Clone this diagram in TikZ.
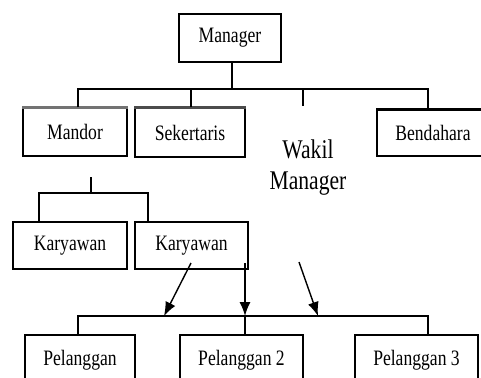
\documentclass[tikz,border=0pt]{standalone}
\usepackage{fontspec}
\setmainfont{Liberation Serif}[FakeStretch=0.8]
\usetikzlibrary{arrows.meta}
\begin{document}
\begin{tikzpicture}[x=1pt,y=-1pt,
  box/.style={draw, line width=1.4pt, inner sep=0pt, font=\fontsize{22}{24}\selectfont},
  conn/.style={line width=1.4pt},
  arr/.style={line width=1.4pt, -{Latex[length=14pt,width=11pt]}},
  greybar/.style={line width=3pt, draw=black!55},
  blackbar/.style={line width=3.2pt, draw=black}]
\useasboundingbox (0,0) rectangle (481,377);
\fill[white] (0,0) rectangle (481,377);
% nodes
\node[box, minimum width=102pt, minimum height=48pt] (manager) at (230,38) {Manager};
\node[box, minimum width=104pt, minimum height=48pt] (mandor) at (75,132) {Mandor};
\node[box, minimum width=110pt, minimum height=49pt] (sekertaris) at (190,132.5) {Sekertaris};
\node[box, minimum width=112pt, minimum height=46pt] (bendahara) at (433,133) {Bendahara};
\node[font=\fontsize{27}{31}\selectfont, align=center, inner sep=0pt] (wakil) at (308,168) {Wakil\\Manager};
\node[box, minimum width=114pt, minimum height=47pt] (kar1) at (70,245.5) {Karyawan};
\node[box, minimum width=113pt, minimum height=47pt] (kar2) at (191.5,245.5) {Karyawan};
\node[box, minimum width=110pt, minimum height=50pt] (pel1) at (80,360) {Pelanggan};
\node[box, minimum width=123pt, minimum height=50pt] (pel2) at (241.5,360) {Pelanggan 2};
\node[box, minimum width=123pt, minimum height=50pt] (pel3) at (416.5,360) {Pelanggan 3};
% top bars
\draw[greybar] (mandor.north west) -- (mandor.north east);
\draw[greybar, draw=black!70] (sekertaris.north west) -- (sekertaris.north east);
\draw[blackbar] (bendahara.north west) -- (bendahara.north east);
% coordinates
\coordinate (bus1) at (232,89);
\coordinate (wstub) at (303,106);
\coordinate (mstem) at (91,177);
\coordinate (bus2) at (91,193);
\coordinate (a1s) at (191,263);
\coordinate (a1e) at (164,316);
\coordinate (a2s) at (245,263);
\coordinate (a2e) at (245,316);
\coordinate (a3s) at (299,262);
\coordinate (a3e) at (318,316);
% top tree
\draw[conn] (manager.south -| bus1) -- (bus1);
\draw[conn] (mandor.north -| 78,0) |- (bus1) -| (bendahara.north -| 428,0);
\draw[conn] (sekertaris.north -| 191,0) -- (191,89);
\draw[conn] (303,89) -- (wstub);
% mandor subtree
\draw[conn] (mstem) -- (bus2);
\draw[conn] (kar1.north -| 39,0) |- (bus2) -| (kar2.north -| 148,0);
% bottom bus
\draw[conn] (pel1.north -| 78,0) |- (a2e) -| (pel3.north -| 428,0);
\draw[conn] (a2e) -- (pel2.north -| a2e);
% arrows
\draw[arr] (a1s) -- (a1e);
\draw[arr] (a2s) -- (a2e);
\draw[arr] (a3s) -- (a3e);
\end{tikzpicture}
\end{document}
